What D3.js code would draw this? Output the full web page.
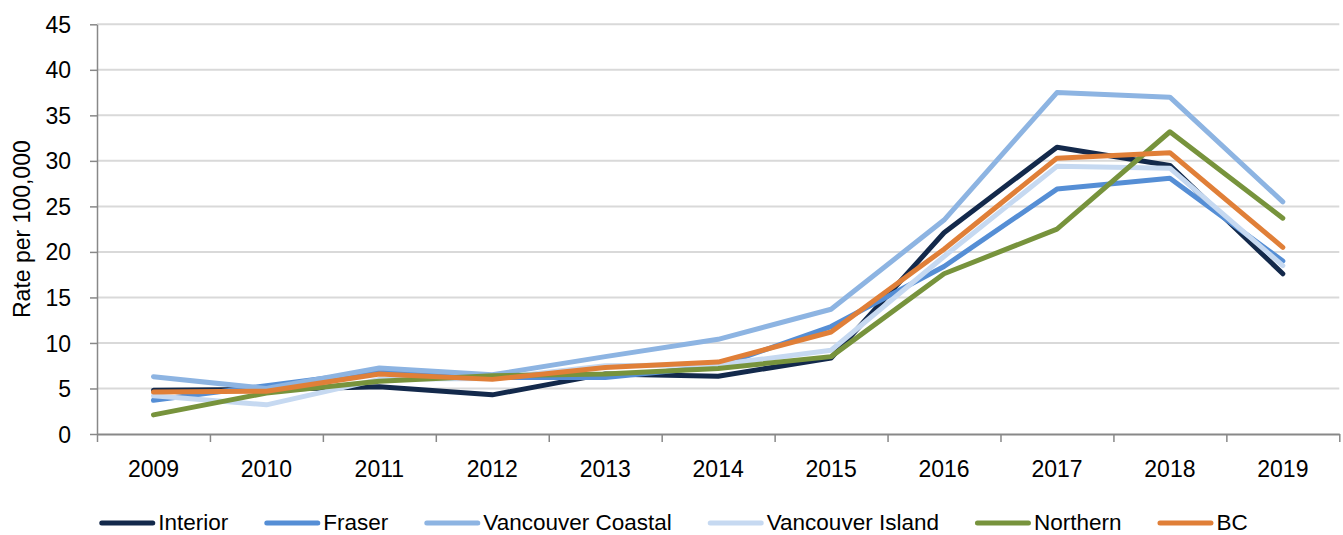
<!DOCTYPE html>
<html>
<head>
<meta charset="utf-8">
<script src="https://cdn.jsdelivr.net/npm/d3@7"></script>
<style>
  body { margin: 0; background: #fff; }
  text { font-family: "Liberation Sans", Arial, sans-serif; fill: #000; }
</style>
</head>
<body>
<div id="line-chart"></div>
<script>
// chart data
var years = ["2009", "2010", "2011", "2012", "2013", "2014", "2015", "2016", "2017", "2018", "2019"];
var yTicks = [0, 5, 10, 15, 20, 25, 30, 35, 40, 45];
var seriesNames = ["Interior", "Fraser", "Vancouver Coastal", "Vancouver Island", "Northern", "BC"];
var interior = [4.8, 4.9, 5.2, 4.3, 6.6, 6.35, 8.35, 22.1, 31.5, 29.5, 17.6];
var fraser = [3.7, 5.3, 6.9, 6.2, 6.2, 7.45, 11.8, 18.4, 26.9, 28.1, 19.0];
var vancouverCoastal = [6.3, 5.0, 7.25, 6.5, 8.5, 10.4, 13.7, 23.5, 37.5, 37.0, 25.5];
var vancouverIsland = [4.2, 3.2, 6.0, 6.1, 7.5, 7.6, 9.2, 19.5, 29.4, 29.2, 18.5];
var northern = [2.1, 4.5, 5.8, 6.4, 6.6, 7.2, 8.5, 17.6, 22.5, 33.2, 23.7];
var bc = [4.6, 4.7, 6.6, 6.0, 7.3, 7.9, 11.2, 20.3, 30.3, 30.9, 20.5];

function init() {
  var W = 1343, H = 535;
  var left = 97, right = 1339.3, top = 24.3, bottom = 434;

  var colors = ["#13294b", "#558ed5", "#8db4e2", "#c6d9f1", "#77933c", "#e07f38"];
  var values = [interior, fraser, vancouverCoastal, vancouverIsland, northern, bc];

  var series = seriesNames.map(function (name, i) {
    return { name: name, color: colors[i], values: values[i] };
  });

  var svg = d3
    .select("#line-chart")
    .append("svg")
    .attr("width", W)
    .attr("height", H);

  var xScale = d3.scaleBand().domain(years).range([left, right]).padding(0);
  var xBound = d3.scaleLinear().domain([0, years.length]).range([left, right]);
  var yScale = d3.scaleLinear().domain([0, 45]).range([bottom, top]);

  // gridlines
  svg
    .append("g")
    .selectAll("line")
    .data(yTicks.filter(function (d) { return d > 0; }))
    .join("line")
    .attr("x1", left)
    .attr("x2", right)
    .attr("y1", function (d) { return yScale(d); })
    .attr("y2", function (d) { return yScale(d); })
    .attr("stroke", "#d9d9d9")
    .attr("stroke-width", 2);

  // y axis
  var yAxis = svg
    .append("g")
    .attr("transform", "translate(" + left + ",0)")
    .call(d3.axisLeft(yScale).tickValues(yTicks).tickSize(7).tickPadding(19).tickSizeOuter(0));
  yAxis.select(".domain").attr("stroke", "#888").attr("stroke-width", 1.5);
  yAxis.selectAll(".tick line").attr("stroke", "#888").attr("stroke-width", 1.5);
  yAxis.selectAll("text").style("font-size", "23px").attr("dy", "0.35em");

  // x axis boundary ticks
  var xTickAxis = svg
    .append("g")
    .attr("transform", "translate(0," + bottom + ")")
    .call(d3.axisBottom(xBound).tickValues(d3.range(years.length + 1)).tickFormat("").tickSize(8).tickSizeOuter(0));
  xTickAxis.select(".domain").attr("stroke", "#888").attr("stroke-width", 2);
  xTickAxis.selectAll(".tick line").attr("stroke", "#888").attr("stroke-width", 1.5);

  // x labels
  var xLabelAxis = svg
    .append("g")
    .attr("transform", "translate(0," + bottom + ")")
    .call(d3.axisBottom(xScale).tickSize(0).tickPadding(27));
  xLabelAxis.select(".domain").remove();
  xLabelAxis.selectAll("text").style("font-size", "23px");

  // lines
  var line = d3
    .line()
    .x(function (d, i) { return xScale(years[i]) + xScale.bandwidth() / 2; })
    .y(function (d) { return yScale(d); });

  svg
    .append("g")
    .selectAll("path")
    .data(series)
    .join("path")
    .attr("d", function (d) { return line(d.values); })
    .attr("fill", "none")
    .attr("stroke", function (d) { return d.color; })
    .attr("stroke-width", 5)
    .attr("stroke-linejoin", "round")
    .attr("stroke-linecap", "round");

  // y axis title
  svg
    .append("text")
    .attr("transform", "translate(30," + (top + bottom) / 2 + ") rotate(-90)")
    .attr("text-anchor", "middle")
    .style("font-size", "23px")
    .text("Rate per 100,000");

  // legend
  var legend = svg.append("g").attr("transform", "translate(0,523)");
  var items = legend
    .selectAll("g")
    .data(series)
    .join("g");
  items
    .append("line")
    .attr("x1", 2.5)
    .attr("x2", 53.5)
    .attr("stroke", function (d) { return d.color; })
    .attr("stroke-width", 5)
    .attr("stroke-linecap", "round");
  items
    .append("text")
    .attr("x", 59)
    .attr("y", 7)
    .style("font-size", "22.5px")
    .text(function (d) { return d.name; });

  var widths = [];
  items.each(function () {
    widths.push(59 + d3.select(this).select("text").node().getComputedTextLength());
  });
  var gap = 36;
  var total = d3.sum(widths) + gap * (widths.length - 1);
  var startX = 673.5 - total / 2;
  var pos = [];
  widths.reduce(function (acc, w) { pos.push(acc); return acc + w + gap; }, startX);
  items.attr("transform", function (d, i) { return "translate(" + pos[i] + ",0)"; });
}

window.onload = init;
</script>
</body>
</html>
